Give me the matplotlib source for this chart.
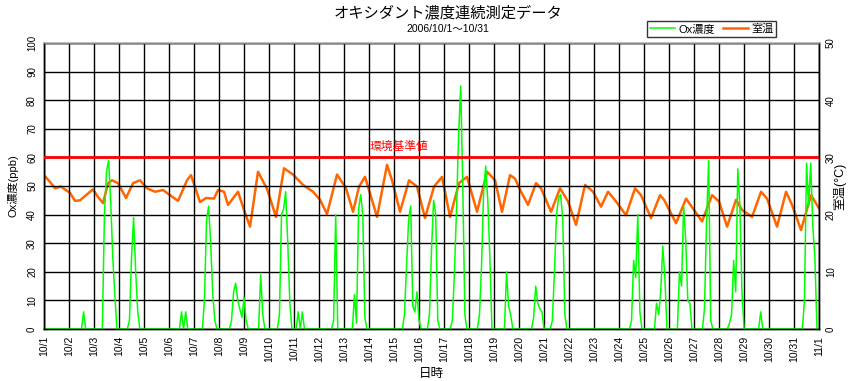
import numpy as np
import matplotlib
matplotlib.use("Agg")
import matplotlib.pyplot as plt

plt.rcParams['font.family'] = ['Liberation Sans', 'Noto Sans CJK JP', 'DejaVu Sans']

# Ox concentration (ppb), one row per day, 2-hour steps (00,02,...,22h)
ox_rows = [
    [0, 0, 0, 0, 0, 0, 0, 0, 0, 0, 0, 0],      # 10/1
    [0, 0, 0, 0, 0, 0, 0, 6, 0, 0, 0, 0],      # 10/2
    [0, 0, 0, 0, 0, 40, 55, 59, 45, 25, 12, 0],
    [0, 0, 0, 0, 0, 3, 25, 39, 20, 6, 0, 0],
    [0, 0, 0, 0, 0, 0, 0, 0, 0, 0, 0, 0],
    [0, 0, 0, 0, 0, 0, 6, 0, 6, 0, 0, 0],
    [0, 0, 0, 0, 0, 10, 38, 43, 30, 12, 3, 0],
    [0, 0, 0, 0, 0, 0, 3, 13, 16, 10, 7, 4],
    [11, 3, 0, 0, 0, 0, 0, 0, 19, 5, 0, 0],
    [0, 0, 0, 0, 0, 5, 40, 42, 48, 30, 9, 0],   # 10/10
    [0, 0, 6, 0, 6, 0, 0, 0, 0, 0, 0, 0],
    [0, 0, 0, 0, 0, 0, 0, 3, 40, 0, 0, 0],
    [0, 0, 0, 0, 0, 12, 2, 42, 47, 40, 4, 0],
    [0, 0, 0, 0, 0, 0, 0, 0, 0, 0, 0, 0],
    [0, 0, 0, 0, 0, 5, 22, 38, 43, 8, 6, 13],
    [3, 0, 0, 0, 0, 5, 28, 45, 40, 3, 0, 0],
    [0, 0, 0, 0, 3, 20, 42, 68, 85, 50, 5, 0],
    [0, 0, 0, 0, 0, 5, 22, 48, 57, 45, 25, 0],
    [0, 0, 0, 0, 0, 0, 20, 8, 5, 0, 0, 0],
    [0, 0, 0, 0, 0, 0, 0, 4, 15, 9, 7, 6],      # 10/20
    [0, 0, 0, 0, 3, 20, 40, 46, 47, 38, 5, 0],
    [0, 0, 0, 0, 0, 0, 0, 0, 0, 0, 0, 0],
    [0, 0, 0, 0, 0, 0, 0, 0, 0, 0, 0, 0],
    [0, 0, 0, 0, 0, 0, 3, 24, 18, 40, 6, 0],
    [0, 0, 0, 0, 0, 0, 9, 5, 13, 29, 18, 0],
    [0, 0, 0, 0, 0, 20, 15, 43, 31, 10, 9, 0],
    [0, 0, 0, 0, 0, 7, 37, 59, 3, 0, 0, 0],
    [0, 0, 0, 0, 0, 2, 5, 24, 13, 56, 43, 13],
    [0, 0, 0, 0, 0, 0, 0, 0, 6, 0, 0, 0],
    [0, 0, 0, 0, 0, 0, 0, 0, 0, 0, 0, 0],       # 10/30
    [0, 0, 0, 0, 0, 10, 58, 43, 58, 36, 25, 0],
]
ox_last = [0]  # 11/1 00h

# room temperature (deg C): time in days from 10/1 00h, value
temp_day = [0.0, 0.24, 0.44, 0.68, 1.04, 1.24, 1.44, 1.76, 1.96, 2.16, 2.36, 2.56,
            2.72, 2.96, 3.28, 3.56, 3.84, 4.12, 4.44, 4.76, 5.04, 5.36, 5.72, 5.88,
            6.24, 6.48, 6.8, 6.96, 7.2, 7.36, 7.76, 8.0, 8.24, 8.56, 8.92, 9.28,
            9.6, 9.96, 10.36, 10.76, 11.04, 11.32, 11.72, 12.08, 12.36, 12.6, 12.84,
            13.04, 13.32, 13.72, 13.92, 14.24, 14.6, 14.92, 15.24, 15.6, 15.92,
            16.24, 16.6, 16.92, 17.32, 17.72, 18.04, 18.32, 18.64, 18.84, 19.08,
            19.36, 19.68, 19.88, 20.28, 20.64, 20.96, 21.28, 21.64, 21.96, 22.28,
            22.56, 22.88, 23.28, 23.64, 23.88, 24.28, 24.64, 24.8, 25.28, 25.68,
            26.32, 26.72, 27.0, 27.32, 27.68, 27.92, 28.32, 28.68, 28.92, 29.32,
            29.68, 29.92, 30.28, 30.68, 31.0]
temp_c = [26.9, 25.7, 24.6, 24.9, 23.8, 22.4, 22.5, 23.7, 24.4, 23.1, 22.0, 25.5,
          26.0, 25.5, 22.9, 25.5, 26.0, 24.6, 24.0, 24.3, 23.4, 22.4, 26.0, 26.9,
          22.2, 22.9, 22.8, 24.3, 24.0, 21.7, 24.0, 20.8, 17.9, 27.5, 24.5, 19.6,
          28.1, 27.0, 25.2, 24.0, 22.6, 20.1, 27.0, 24.6, 20.5, 24.9, 26.6,
          23.7, 19.6, 28.7, 26.0, 20.5, 26.0, 24.9, 19.4, 24.9, 26.6,
          19.6, 25.5, 26.6, 20.5, 27.5, 26.0, 20.5, 26.9, 26.3, 24.0,
          21.7, 25.5, 24.6, 20.5, 24.6, 22.3, 18.2, 25.2, 24.0, 21.4,
          24.0, 22.3, 19.9, 24.6, 23.4, 19.4, 23.4, 22.6, 18.5, 22.8,
          18.8, 23.4, 22.3, 17.9, 22.6, 20.8, 19.6, 24.0, 22.8, 17.9,
          24.0, 21.7, 17.3, 23.4, 21.1]

standard_ppb = 60
day_labels = ['10/%d' % d for d in range(1, 32)] + ['11/1']

ox = np.concatenate([np.array(ox_rows).ravel(), ox_last])
ox_day = np.arange(len(ox)) / 12.0

fig = plt.figure(figsize=(8.53, 3.81), dpi=100)
ax1 = fig.add_axes([0.0516, 0.1365, 0.9086, 0.7505])
ax2 = ax1.twinx()
ax1.set_zorder(2)
ax1.patch.set_visible(False)

l2, = ax2.plot(temp_day, temp_c, color='#FF6600', lw=1.8, label='室温')
l1, = ax1.plot(ox_day, ox, color='#00FF00', lw=1.1, label='Ox濃度', clip_on=False)
ax1.axhline(standard_ppb, color='#FF0000', lw=2, zorder=3)
ax1.text(14.2, standard_ppb + 1.5, '環境基準値', color='#FF0000', fontsize=8.5,
         ha='center', va='bottom')

ax1.set_xlim(0, 31)
ax1.set_ylim(0, 100)
ax2.set_ylim(0, 50)
ax1.set_xticks(range(32))
ax1.set_xticklabels(day_labels, rotation=90, fontsize=7.5)
ax1.set_yticks(range(0, 101, 10))
ax1.set_yticklabels([str(v) for v in range(0, 101, 10)], rotation=90, va='center', fontsize=7)
ax2.set_yticks(range(0, 51, 10))
ax2.set_yticklabels([str(v) for v in range(0, 51, 10)], rotation=90, va='center', fontsize=7)
ax1.tick_params(length=0, pad=5)
ax2.tick_params(length=0, pad=5)
ax1.grid(True, color='black', lw=1)

for ax in (ax1, ax2):
    for s in ax.spines.values():
        s.set_color('black')
        s.set_linewidth(1)
ax1.spines['top'].set_color('#888888')

ax1.set_xlabel('日時', fontsize=9, labelpad=4)
ax1.set_ylabel('Ox濃度(ppb)', fontsize=8, labelpad=6)
ax2.set_ylabel('室温(°C)', fontsize=9, labelpad=-2)

fig.text(0.525, 0.965, 'オキシダント濃度連続測定データ', ha='center', va='center', fontsize=11)
fig.text(0.525, 0.925, '2006/10/1～10/31', ha='center', va='center', fontsize=7.5)

leg = fig.legend([l1, l2], ['Ox濃度', '室温'], loc='upper right',
                 bbox_to_anchor=(0.91, 0.945), ncol=2, fontsize=8, frameon=True,
                 fancybox=False, edgecolor='black', borderpad=0.25, handlelength=2.2,
                 handletextpad=0.3, columnspacing=0.8, borderaxespad=0)
leg.get_frame().set_linewidth(1)

fig.savefig('out.png', dpi=100)
